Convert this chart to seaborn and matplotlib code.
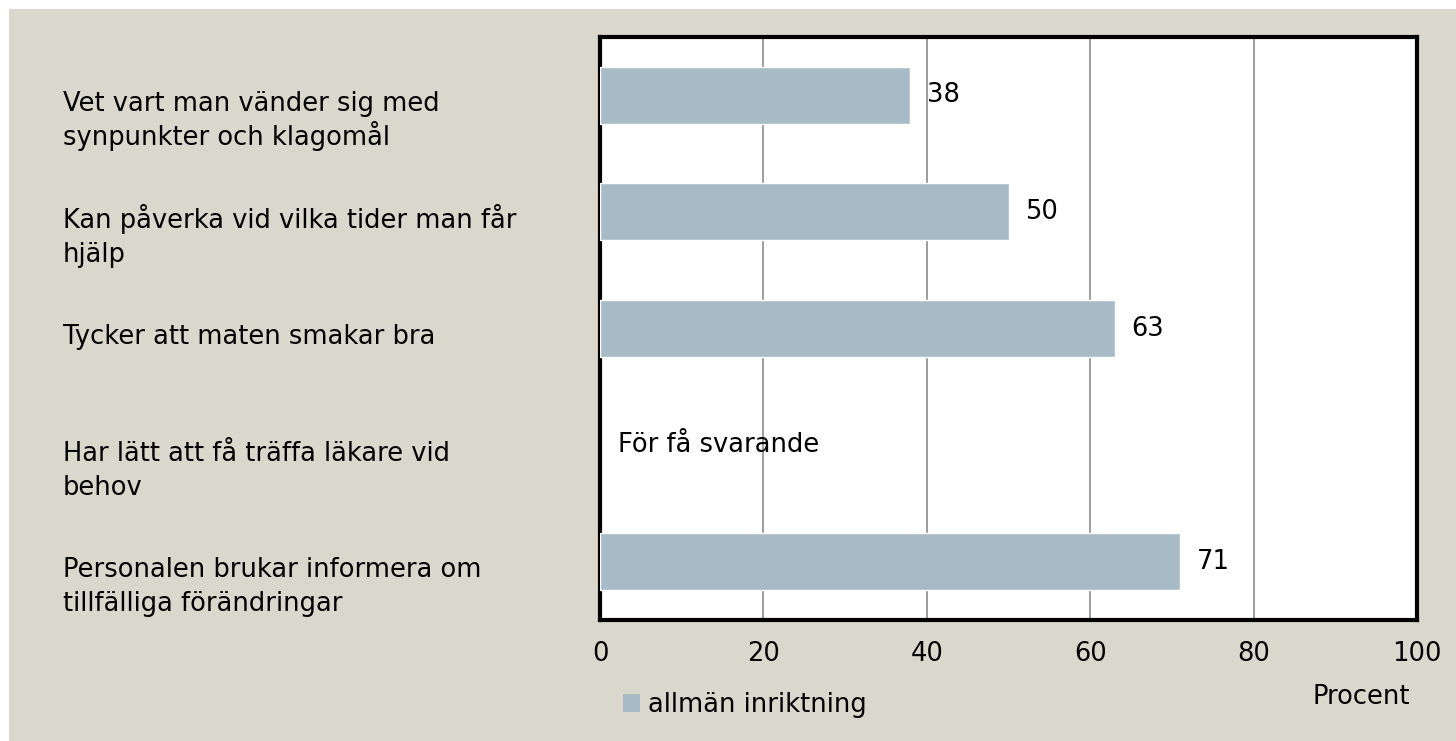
import numpy as np
import pandas as pd
import seaborn as sns
import matplotlib.pyplot as plt
from matplotlib.patches import Rectangle
import matplotlib.transforms as mtransforms

categories = [
    "Vet vart man vänder sig med\nsynpunkter och klagomål",
    "Kan påverka vid vilka tider man får\nhjälp",
    "Tycker att maten smakar bra",
    "Har lätt att få träffa läkare vid\nbehov",
    "Personalen brukar informera om\ntillfälliga förändringar",
]
values = [38, 50, 63, np.nan, 71]
series_name = "allmän inriktning"
missing_text = "För få svarande"
xticks = [0, 20, 40, 60, 80, 100]

bg = "#dad8cc"
bar_color = "#a7bbc6"
fs = 18.5

sns.set_style("white")
plt.rcParams["font.family"] = ["DejaVu Sans"]
plt.rcParams["text.color"] = "black"
plt.rcParams["xtick.color"] = "black"

df = pd.DataFrame({"kat": categories, "procent": values})

fig = plt.figure(figsize=(14.56, 7.41), dpi=100, facecolor=bg)
# thin white strips on the left and top edges
fig.add_artist(Rectangle((0, 0), 9 / 1456, 1, transform=fig.transFigure,
                         facecolor="white", edgecolor="none"))
fig.add_artist(Rectangle((0, 1 - 9 / 741), 1, 9 / 741, transform=fig.transFigure,
                         facecolor="white", edgecolor="none"))

ax = fig.add_axes([600 / 1456, 121 / 741, 817 / 1456, 583 / 741])
ax.set_facecolor("white")

sns.barplot(data=df, x="procent", y="kat", orient="h", color=bar_color,
            width=0.49, saturation=1, ax=ax, zorder=3)

ax.set_xlim(0, 100)
ax.set_xticks(xticks)
ax.set_xticklabels([str(t) for t in xticks], fontsize=fs)
ax.tick_params(axis="x", length=0, pad=15, colors="black")
ax.grid(axis="x", color="#8c8c8c", linewidth=1.2, zorder=0)
ax.set_axisbelow(True)
for s in ax.spines.values():
    s.set_visible(True)
    s.set_color("black")
    s.set_linewidth(3)
ax.set_ylabel("")
ax.set_xlabel("")
ax.set_yticks(range(len(categories)))
ax.set_yticklabels([])
ax.tick_params(axis="y", length=0)

# category labels, left aligned at the figure edge, one text per line
trans = mtransforms.blended_transform_factory(fig.transFigure, ax.transData)
for i, lab in enumerate(categories):
    for k, line in enumerate(lab.split("\n")):
        ax.annotate(line, xy=(63 / 1456, i), xycoords=trans, xytext=(0, -11.3 - 24.5 * k),
                    textcoords="offset points", ha="left", va="baseline",
                    fontsize=fs, annotation_clip=False, color="black")

# value labels
for i, v in enumerate(values):
    if np.isnan(v):
        ax.annotate(missing_text, xy=(0, i), xytext=(13, 0), textcoords="offset points",
                    ha="left", va="center", fontsize=fs, color="black")
    else:
        ax.annotate(f"{v:.0f}", xy=(v, i), xytext=(12, 0), textcoords="offset points",
                    ha="left", va="center", fontsize=fs, color="black")

fig.text(1410 / 1456, 1 - 697 / 741, "Procent", ha="right", va="center", fontsize=fs, color="black")

leg_handle = Rectangle((0, 0), 1, 1, facecolor=bar_color, edgecolor="none")
leg = fig.legend([leg_handle], [series_name], loc="center left",
                 bbox_to_anchor=(600 / 1456, 1 - 705 / 741), frameon=False, fontsize=fs,
                 handlelength=0.65, handleheight=0.65, handletextpad=0.3)
for t in leg.get_texts():
    t.set_color("black")

fig.savefig("out.png", dpi=100, facecolor=fig.get_facecolor())
